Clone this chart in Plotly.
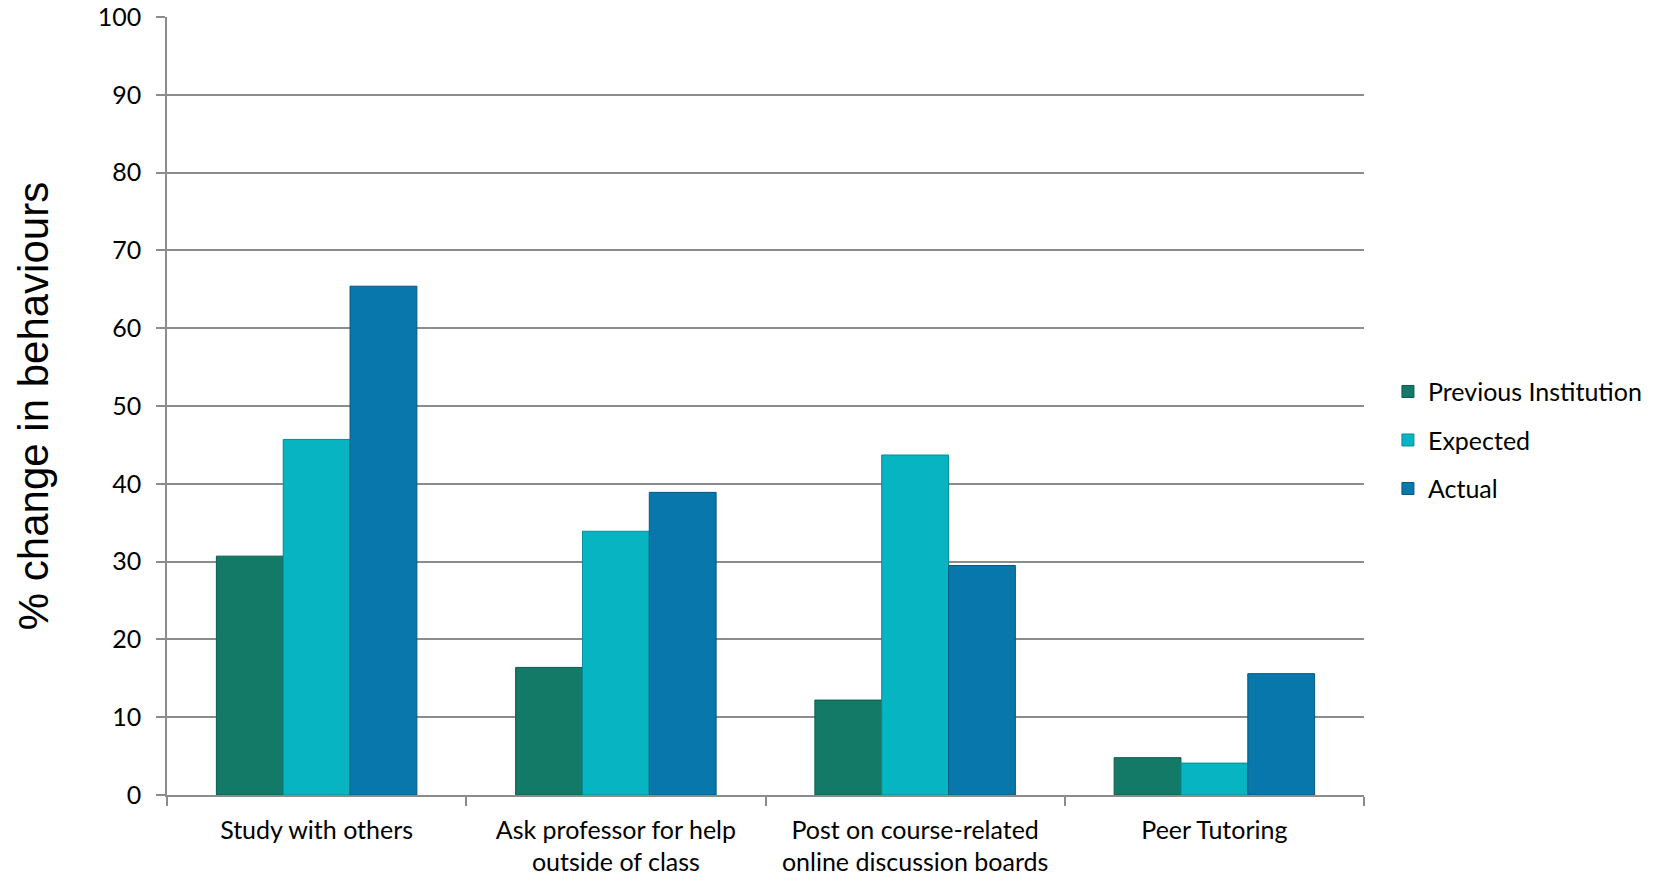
import plotly.graph_objects as go

categories = ["Study with others", "Ask professor for help<br>outside of class",
              "Post on course-related<br>online discussion boards", "Peer Tutoring"]
previous = [30.7, 16.4, 12.2, 4.8]
expected = [45.7, 33.9, 43.7, 4.1]
actual = [65.4, 38.9, 29.5, 15.6]
series_names = ["Previous Institution", "Expected", "Actual"]
colors = ["#137a68", "#06b4c2", "#0877ab"]
edge = ["#0b5a4c", "#078c99", "#05597f"]

fig = go.Figure()
for i, (name, vals) in enumerate(zip(series_names, [previous, expected, actual])):
    fig.add_trace(go.Bar(
        x=categories, y=vals, name=name, legendgroup=name,
        marker=dict(color=colors[i], line=dict(color=edge[i], width=1)),
    ))

font_main = "Lato, 'Liberation Sans', sans-serif"
fig.update_layout(
    width=1653, height=876,
    barmode="group", bargap=0.33, bargroupgap=0,
    plot_bgcolor="white", paper_bgcolor="white",
    margin=dict(l=167, r=289, t=17, b=81, autoexpand=False),
    font=dict(family=font_main, size=25, color="#000000"),
    showlegend=True,
    legend=dict(x=1.020, xanchor="left", y=0.456, yanchor="middle",
                traceorder="grouped", tracegroupgap=13,
                font=dict(size=25), itemwidth=30, bgcolor="rgba(0,0,0,0)"),
    xaxis=dict(showline=True, linecolor="#8c8c8c", linewidth=1.5,
               ticks="outside", tickson="boundaries", ticklen=9, tickcolor="#8c8c8c",
               tickwidth=1.5, tickfont=dict(size=25), ticklabelstandoff=12,
               automargin=False),
    yaxis=dict(range=[0, 100], dtick=10, showgrid=True, gridcolor="#8c8c8c", gridwidth=1.5,
               showline=True, linecolor="#8c8c8c", linewidth=1.5,
               ticks="outside", ticklen=9, tickcolor="#8c8c8c", tickwidth=1.5,
               tickfont=dict(size=25), ticklabelstandoff=10,
               zeroline=False, automargin=False,
               title=dict(text="% change in behaviours",
                          font=dict(family="'Liberation Sans', Arial, sans-serif", size=42),
                          standoff=36)),
)

fig.write_html("out.html", config={"displayModeBar": False},
               post_script="document.body.style.margin='0';")
